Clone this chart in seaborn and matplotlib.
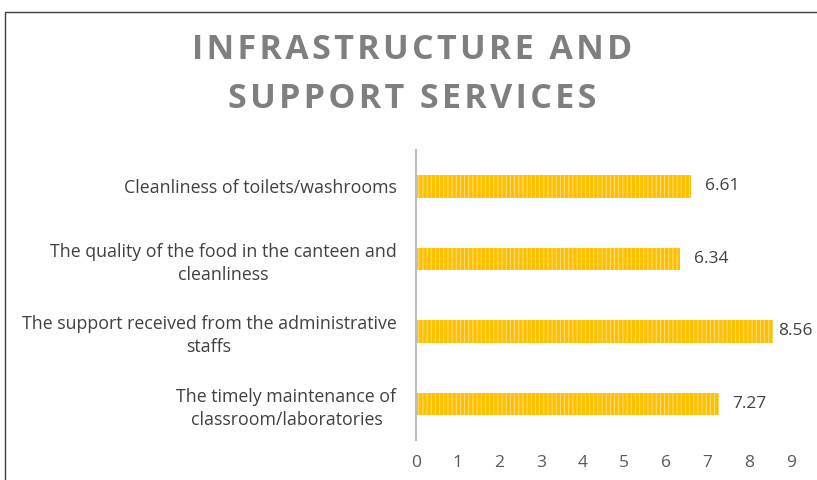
import pandas as pd
import matplotlib.pyplot as plt
import seaborn as sns
from matplotlib.patches import Rectangle

categories = [
    "Cleanliness of toilets/washrooms",
    "The quality of the food in the canteen and\ncleanliness",
    "The support received from the administrative\nstaffs",
    "The timely maintenance of\nclassroom/laboratories",
]
scores = [6.61, 6.34, 8.56, 7.27]
ticks = list(range(10))
title = "INFRASTRUCTURE AND\nSUPPORT SERVICES"

df = pd.DataFrame({"item": categories, "score": scores})

sns.set_theme(style="white")
plt.rcParams["font.family"] = ["Open Sans", "DejaVu Sans"]
plt.rcParams["hatch.color"] = "#FFE38A"
plt.rcParams["hatch.linewidth"] = 0.6

fig = plt.figure(figsize=(8.17, 4.8), dpi=100)
ax = fig.add_axes([0.509, 0.083, 0.459, 0.604])

sns.barplot(data=df, x="score", y="item", color="#FFC000", width=0.31,
            saturation=1, ax=ax)
for bar in ax.patches:
    bar.set_hatch("||||")
    bar.set_edgecolor("#FFE38A")
    bar.set_linewidth(0)

# labels sit just right of the bars, pushed in near the right edge
for i, v in enumerate(scores):
    ax.text(min(v + 0.33, 8.7), i, f"{v:.2f}", va="center", ha="left",
            fontsize=12.5, color="#404040")

ax.set_xlim(0, 9)
ax.set_ylim(3.5, -0.5)
ax.set_xticks(ticks)
ax.tick_params(axis="x", length=0, labelsize=12.5, labelcolor="#595959", pad=11)
ax.tick_params(axis="y", length=0, labelsize=12.8, labelcolor="#404040", pad=14)
for lbl in ax.get_yticklabels():
    lbl.set_multialignment("center")
    lbl.set_linespacing(1.35)
ax.set_xlabel("")
ax.set_ylabel("")
for s in ["top", "right", "bottom"]:
    ax.spines[s].set_visible(False)
ax.spines["left"].set_color("#BFBFBF")
ax.spines["left"].set_linewidth(1.5)

# spread the title letters a little, like the original's letter spacing
spaced = "\n".join("\u200a".join(line) for line in title.split("\n"))
fig.text(0.505, 0.845, spaced, ha="center", va="center", fontsize=24.5,
         fontweight="bold", color="#7F7F7F", linespacing=1.55)

fig.patches.append(Rectangle((5 / 817, -0.1), 2, 1 - 12 / 480 + 0.1,
                             transform=fig.transFigure, fill=False,
                             edgecolor="#404040", linewidth=1))

plt.savefig("out.png", dpi=100)
plt.close()
